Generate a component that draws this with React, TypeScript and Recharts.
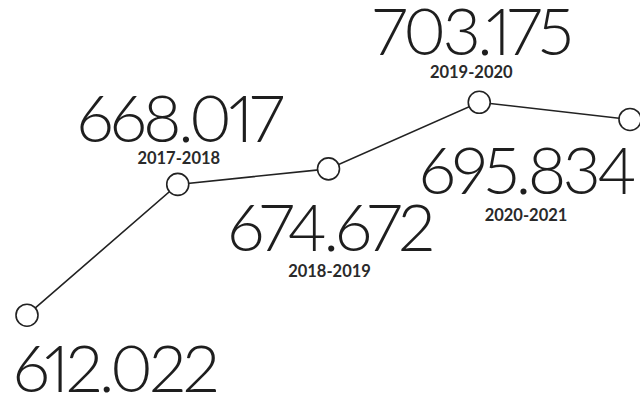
import { LineChart, Line, XAxis, YAxis, LabelList } from 'recharts';

// school years shown on the chart (first one carries no year caption)
const years = ['', '2017-2018', '2018-2019', '2019-2020', '2020-2021'];
const totals = [612022, 668017, 674672, 703175, 695834];

const data = years.map((year, i) => ({ year, total: totals[i] }));

const fmt = (v: number) => String(v).replace(/\B(?=(\d{3})+(?!\d))/g, '.');

// where each caption sits relative to its dot
const PLACE = [
  { dx: -14, num: 77, yr: 0, anchor: 'start' },
  { dx: 1, num: -42, yr: -20, anchor: 'middle' },
  { dx: 1, num: 82, yr: 108, anchor: 'middle' },
  { dx: -8, num: -47, yr: -24, anchor: 'middle' },
  { dx: -104, num: 75, yr: 102, anchor: 'middle' },
];

const renderLabel = (props: any) => {
  const { x, y, index, value } = props;
  const p = PLACE[index];
  const year = years[index];
  return (
    <g>
      <text
        x={x + p.dx}
        y={y + p.num}
        textAnchor={p.anchor}
        fontFamily="Lato"
        fontWeight={300}
        fontSize={66}
        letterSpacing={-3.5}
        style={{ fontVariantNumeric: 'proportional-nums' }}
        fill="#1e1e1e"
      >
        {fmt(value)}
      </text>
      {year && (
        <text
          x={x + p.dx}
          y={y + p.yr}
          textAnchor="middle"
          fontFamily="Lato"
          fontWeight={700}
          fontSize={16.5}
          fill="#2a2a2a"
        >
          {year}
        </text>
      )}
    </g>
  );
};

const App = () => {
  return (
    <div style={{ position: 'absolute', left: 0, top: 0, width: 640, height: 402, background: '#fff' }}>
      <LineChart width={640} height={402} data={data} margin={{ top: 63, right: 10, bottom: 12, left: 27 }}>
        <XAxis dataKey="year" hide padding={{ left: 0, right: 0 }} />
        <YAxis hide domain={[580000, 720000]} />
        <Line
          dataKey="total"
          stroke="#222"
          strokeWidth={1.6}
          isAnimationActive={false}
          dot={{ r: 11, fill: '#fff', stroke: '#222', strokeWidth: 1.6 }}
          activeDot={false}
        >
          <LabelList dataKey="total" content={renderLabel} />
        </Line>
      </LineChart>
    </div>
  );
};

export default App;
